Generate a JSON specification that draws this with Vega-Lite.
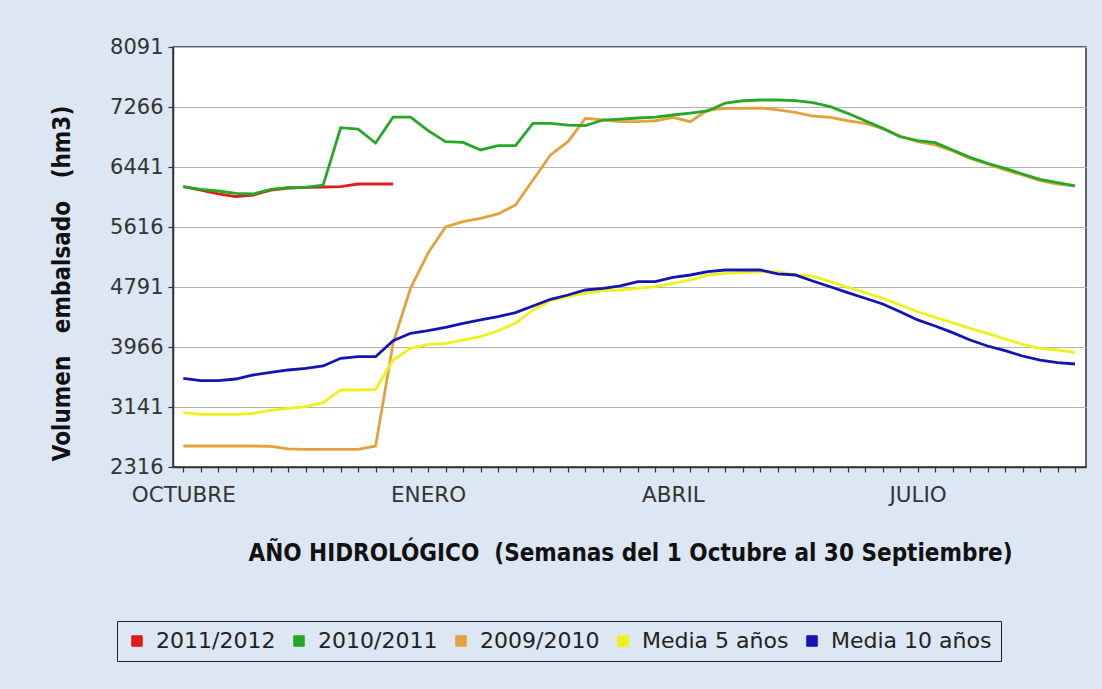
{
  "$schema": "https://vega.github.io/schema/vega-lite/v6.json",
  "width": 913,
  "height": 420,
  "autosize": {"type": "none"},
  "padding": {"left": 173, "top": 47, "right": 16, "bottom": 222},
  "background": "#dde7f3",
  "config": {
    "font": "DejaVu Sans",
    "view": {"fill": "white", "stroke": "#333333", "strokeWidth": 1.5}
  },
  "data": {"values": [
    {"s":"2011/2012","w":1,"v":6170},{"s":"2011/2012","w":2,"v":6124},{"s":"2011/2012","w":3,"v":6070},{"s":"2011/2012","w":4,"v":6033},{"s":"2011/2012","w":5,"v":6056},{"s":"2011/2012","w":6,"v":6124},{"s":"2011/2012","w":7,"v":6152},{"s":"2011/2012","w":8,"v":6160},{"s":"2011/2012","w":9,"v":6166},{"s":"2011/2012","w":10,"v":6170},{"s":"2011/2012","w":11,"v":6207},{"s":"2011/2012","w":12,"v":6207},{"s":"2011/2012","w":13,"v":6207},

    {"s":"2009/2010","w":1,"v":2605},{"s":"2009/2010","w":2,"v":2605},{"s":"2009/2010","w":3,"v":2605},{"s":"2009/2010","w":4,"v":2605},{"s":"2009/2010","w":5,"v":2605},{"s":"2009/2010","w":6,"v":2600},{"s":"2009/2010","w":7,"v":2565},{"s":"2009/2010","w":8,"v":2559},{"s":"2009/2010","w":9,"v":2559},{"s":"2009/2010","w":10,"v":2559},{"s":"2009/2010","w":11,"v":2559},{"s":"2009/2010","w":12,"v":2605},{"s":"2009/2010","w":13,"v":4021},{"s":"2009/2010","w":14,"v":4777},{"s":"2009/2010","w":15,"v":5258},{"s":"2009/2010","w":16,"v":5616},{"s":"2009/2010","w":17,"v":5689},{"s":"2009/2010","w":18,"v":5735},{"s":"2009/2010","w":19,"v":5795},{"s":"2009/2010","w":20,"v":5918},{"s":"2009/2010","w":21,"v":6262},{"s":"2009/2010","w":22,"v":6606},{"s":"2009/2010","w":23,"v":6789},{"s":"2009/2010","w":24,"v":7111},{"s":"2009/2010","w":25,"v":7087},{"s":"2009/2010","w":26,"v":7064},{"s":"2009/2010","w":27,"v":7064},{"s":"2009/2010","w":28,"v":7077},{"s":"2009/2010","w":29,"v":7124},{"s":"2009/2010","w":30,"v":7064},{"s":"2009/2010","w":31,"v":7225},{"s":"2009/2010","w":32,"v":7248},{"s":"2009/2010","w":33,"v":7248},{"s":"2009/2010","w":34,"v":7252},{"s":"2009/2010","w":35,"v":7225},{"s":"2009/2010","w":36,"v":7193},{"s":"2009/2010","w":37,"v":7142},{"s":"2009/2010","w":38,"v":7124},{"s":"2009/2010","w":39,"v":7077},{"s":"2009/2010","w":40,"v":7042},{"s":"2009/2010","w":41,"v":6972},{"s":"2009/2010","w":42,"v":6867},{"s":"2009/2010","w":43,"v":6789},{"s":"2009/2010","w":44,"v":6744},{"s":"2009/2010","w":45,"v":6661},{"s":"2009/2010","w":46,"v":6560},{"s":"2009/2010","w":47,"v":6482},{"s":"2009/2010","w":48,"v":6400},{"s":"2009/2010","w":49,"v":6331},{"s":"2009/2010","w":50,"v":6253},{"s":"2009/2010","w":51,"v":6207},{"s":"2009/2010","w":52,"v":6180},

    {"s":"2010/2011","w":1,"v":6170},{"s":"2010/2011","w":2,"v":6134},{"s":"2010/2011","w":3,"v":6111},{"s":"2010/2011","w":4,"v":6079},{"s":"2010/2011","w":5,"v":6070},{"s":"2010/2011","w":6,"v":6134},{"s":"2010/2011","w":7,"v":6156},{"s":"2010/2011","w":8,"v":6162},{"s":"2010/2011","w":9,"v":6193},{"s":"2010/2011","w":10,"v":6981},{"s":"2010/2011","w":11,"v":6963},{"s":"2010/2011","w":12,"v":6771},{"s":"2010/2011","w":13,"v":7128},{"s":"2010/2011","w":14,"v":7128},{"s":"2010/2011","w":15,"v":6940},{"s":"2010/2011","w":16,"v":6790},{"s":"2010/2011","w":17,"v":6780},{"s":"2010/2011","w":18,"v":6675},{"s":"2010/2011","w":19,"v":6734},{"s":"2010/2011","w":20,"v":6734},{"s":"2010/2011","w":21,"v":7042},{"s":"2010/2011","w":22,"v":7040},{"s":"2010/2011","w":23,"v":7018},{"s":"2010/2011","w":24,"v":7009},{"s":"2010/2011","w":25,"v":7087},{"s":"2010/2011","w":26,"v":7100},{"s":"2010/2011","w":27,"v":7115},{"s":"2010/2011","w":28,"v":7128},{"s":"2010/2011","w":29,"v":7156},{"s":"2010/2011","w":30,"v":7183},{"s":"2010/2011","w":31,"v":7211},{"s":"2010/2011","w":32,"v":7321},{"s":"2010/2011","w":33,"v":7352},{"s":"2010/2011","w":34,"v":7362},{"s":"2010/2011","w":35,"v":7362},{"s":"2010/2011","w":36,"v":7355},{"s":"2010/2011","w":37,"v":7325},{"s":"2010/2011","w":38,"v":7270},{"s":"2010/2011","w":39,"v":7179},{"s":"2010/2011","w":40,"v":7077},{"s":"2010/2011","w":41,"v":6972},{"s":"2010/2011","w":42,"v":6857},{"s":"2010/2011","w":43,"v":6803},{"s":"2010/2011","w":44,"v":6775},{"s":"2010/2011","w":45,"v":6675},{"s":"2010/2011","w":46,"v":6574},{"s":"2010/2011","w":47,"v":6492},{"s":"2010/2011","w":48,"v":6423},{"s":"2010/2011","w":49,"v":6345},{"s":"2010/2011","w":50,"v":6272},{"s":"2010/2011","w":51,"v":6225},{"s":"2010/2011","w":52,"v":6180},

    {"s":"Media 5 años","w":1,"v":3063},{"s":"Media 5 años","w":2,"v":3040},{"s":"Media 5 años","w":3,"v":3040},{"s":"Media 5 años","w":4,"v":3040},{"s":"Media 5 años","w":5,"v":3054},{"s":"Media 5 años","w":6,"v":3095},{"s":"Media 5 años","w":7,"v":3123},{"s":"Media 5 años","w":8,"v":3145},{"s":"Media 5 años","w":9,"v":3200},{"s":"Media 5 años","w":10,"v":3375},{"s":"Media 5 años","w":11,"v":3375},{"s":"Media 5 años","w":12,"v":3384},{"s":"Media 5 años","w":13,"v":3787},{"s":"Media 5 años","w":14,"v":3948},{"s":"Media 5 años","w":15,"v":4003},{"s":"Media 5 años","w":16,"v":4017},{"s":"Media 5 años","w":17,"v":4062},{"s":"Media 5 años","w":18,"v":4108},{"s":"Media 5 años","w":19,"v":4190},{"s":"Media 5 años","w":20,"v":4292},{"s":"Media 5 años","w":21,"v":4475},{"s":"Media 5 años","w":22,"v":4603},{"s":"Media 5 años","w":23,"v":4658},{"s":"Media 5 años","w":24,"v":4704},{"s":"Media 5 años","w":25,"v":4740},{"s":"Media 5 años","w":26,"v":4750},{"s":"Media 5 años","w":27,"v":4773},{"s":"Media 5 años","w":28,"v":4795},{"s":"Media 5 años","w":29,"v":4842},{"s":"Media 5 años","w":30,"v":4887},{"s":"Media 5 años","w":31,"v":4956},{"s":"Media 5 años","w":32,"v":4979},{"s":"Media 5 años","w":33,"v":4990},{"s":"Media 5 años","w":34,"v":5000},{"s":"Media 5 años","w":35,"v":5000},{"s":"Media 5 años","w":36,"v":4960},{"s":"Media 5 años","w":37,"v":4940},{"s":"Media 5 años","w":38,"v":4864},{"s":"Media 5 años","w":39,"v":4787},{"s":"Media 5 años","w":40,"v":4713},{"s":"Media 5 años","w":41,"v":4636},{"s":"Media 5 años","w":42,"v":4544},{"s":"Media 5 años","w":43,"v":4451},{"s":"Media 5 años","w":44,"v":4374},{"s":"Media 5 años","w":45,"v":4300},{"s":"Media 5 años","w":46,"v":4223},{"s":"Media 5 años","w":47,"v":4154},{"s":"Media 5 años","w":48,"v":4076},{"s":"Media 5 años","w":49,"v":4003},{"s":"Media 5 años","w":50,"v":3948},{"s":"Media 5 años","w":51,"v":3925},{"s":"Media 5 años","w":52,"v":3888},

    {"s":"Media 10 años","w":1,"v":3535},{"s":"Media 10 años","w":2,"v":3503},{"s":"Media 10 años","w":3,"v":3503},{"s":"Media 10 años","w":4,"v":3526},{"s":"Media 10 años","w":5,"v":3581},{"s":"Media 10 años","w":6,"v":3618},{"s":"Media 10 años","w":7,"v":3650},{"s":"Media 10 años","w":8,"v":3673},{"s":"Media 10 años","w":9,"v":3705},{"s":"Media 10 años","w":10,"v":3811},{"s":"Media 10 años","w":11,"v":3833},{"s":"Media 10 años","w":12,"v":3833},{"s":"Media 10 años","w":13,"v":4053},{"s":"Media 10 años","w":14,"v":4154},{"s":"Media 10 años","w":15,"v":4190},{"s":"Media 10 años","w":16,"v":4237},{"s":"Media 10 años","w":17,"v":4292},{"s":"Media 10 años","w":18,"v":4338},{"s":"Media 10 años","w":19,"v":4383},{"s":"Media 10 años","w":20,"v":4438},{"s":"Media 10 años","w":21,"v":4530},{"s":"Media 10 años","w":22,"v":4622},{"s":"Media 10 años","w":23,"v":4681},{"s":"Media 10 años","w":24,"v":4750},{"s":"Media 10 años","w":25,"v":4773},{"s":"Media 10 años","w":26,"v":4805},{"s":"Media 10 años","w":27,"v":4864},{"s":"Media 10 años","w":28,"v":4864},{"s":"Media 10 años","w":29,"v":4924},{"s":"Media 10 años","w":30,"v":4956},{"s":"Media 10 años","w":31,"v":5001},{"s":"Media 10 años","w":32,"v":5025},{"s":"Media 10 años","w":33,"v":5025},{"s":"Media 10 años","w":34,"v":5025},{"s":"Media 10 años","w":35,"v":4970},{"s":"Media 10 años","w":36,"v":4956},{"s":"Media 10 años","w":37,"v":4873},{"s":"Media 10 años","w":38,"v":4795},{"s":"Media 10 años","w":39,"v":4713},{"s":"Media 10 años","w":40,"v":4636},{"s":"Media 10 años","w":41,"v":4557},{"s":"Media 10 años","w":42,"v":4451},{"s":"Media 10 años","w":43,"v":4338},{"s":"Media 10 años","w":44,"v":4255},{"s":"Media 10 años","w":45,"v":4163},{"s":"Media 10 años","w":46,"v":4062},{"s":"Media 10 años","w":47,"v":3980},{"s":"Media 10 años","w":48,"v":3915},{"s":"Media 10 años","w":49,"v":3842},{"s":"Media 10 años","w":50,"v":3787},{"s":"Media 10 años","w":51,"v":3750},{"s":"Media 10 años","w":52,"v":3732}
  ]},
  "mark": {"type": "line", "strokeWidth": 2.8, "interpolate": "linear"},
  "encoding": {
    "x": {
      "field": "w", "type": "quantitative",
      "scale": {"domain": [0.41, 52.63], "nice": false, "zero": false},
      "axis": {
        "values": [1,2,3,4,5,6,7,8,9,10,11,12,13,14,15,16,17,18,19,20,21,22,23,24,25,26,27,28,29,30,31,32,33,34,35,36,37,38,39,40,41,42,43,44,45,46,47,48,49,50,51,52],
        "labelExpr": "datum.value == 1 ? 'OCTUBRE' : datum.value == 15 ? 'ENERO' : datum.value == 29 ? 'ABRIL' : datum.value == 43 ? 'JULIO' : ''",
        "grid": false,
        "domainColor": "#333333", "domainWidth": 1.5,
        "tickColor": "#333333", "tickSize": 5, "tickWidth": 1.2,
        "labelFont": "DejaVu Sans", "labelFontSize": 21.5, "labelColor": "#333333",
        "labelPadding": 12, "labelOverlap": false, "labelFlush": false,
        "title": "AÑO HIDROLÓGICO\u00a0\u00a0(Semanas del 1 Octubre al 30 Septiembre)",
        "titleFont": "DejaVu Sans Condensed, DejaVu Sans", "titleFontSize": 24, "titleFontWeight": "bold", "titleColor": "#111111",
        "titleX": 457, "titleY": 86, "titleAlign": "center", "titleBaseline": "middle"
      }
    },
    "y": {
      "field": "v", "type": "quantitative",
      "scale": {"domain": [2316, 8091], "nice": false, "zero": false},
      "axis": {
        "values": [2316, 3141, 3966, 4791, 5616, 6441, 7266, 8091],
        "format": "d",
        "grid": true, "gridColor": "#b4b4b4", "gridWidth": 1.2,
        "domainColor": "#333333", "domainWidth": 1.5,
        "tickColor": "#333333", "tickSize": 5, "tickWidth": 1.2,
        "labelFont": "DejaVu Sans", "labelFontSize": 21, "labelColor": "#333333",
        "labelPadding": 5, "labelFlush": false, "labelOverlap": false,
        "title": "Volumen\u00a0\u00a0\u00a0embalsado\u00a0\u00a0\u00a0(hm3)",
        "titleFont": "DejaVu Sans Condensed, DejaVu Sans", "titleFontSize": 24, "titleFontWeight": "bold", "titleColor": "#111111",
        "titleAngle": -90, "titleX": -111, "titleY": 236, "titleAlign": "center", "titleBaseline": "middle"
      }
    },
    "color": {
      "field": "s", "type": "nominal",
      "scale": {
        "domain": ["2011/2012", "2010/2011", "2009/2010", "Media 5 años", "Media 10 años"],
        "range": ["#dd1c1c", "#25a825", "#e4a23c", "#f0f01a", "#1414b4"]
      },
      "legend": {
        "title": null,
        "orient": "none", "legendX": -56, "legendY": 574,
        "direction": "horizontal", "columns": 5,
        "symbolType": "square", "symbolSize": 110,
        "symbolStrokeColor": "#222222", "symbolStrokeWidth": 1,
        "labelFont": "DejaVu Sans", "labelFontSize": 22, "labelColor": "#222222",
        "labelLimit": 0,
        "labelOffset": 8, "columnPadding": 12,
        "padding": 9, "strokeColor": "#222222", "fillColor": "#dde7f3",
        "encode": {
          "symbols": {"update": {
            "fill": {"scale": "color", "field": "value"},
            "fillOpacity": {"value": 1},
            "stroke": {"value": "#222222"},
            "strokeWidth": {"value": 1}
          }}
        }
      }
    },
    "order": {"field": "w", "type": "quantitative"}
  }
}
